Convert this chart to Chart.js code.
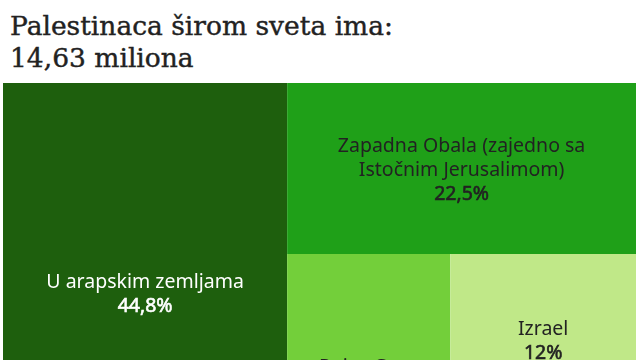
<!DOCTYPE html>
<html><head><meta charset="utf-8">
<script src="https://cdn.jsdelivr.net/npm/chart.js@4"></script>
<style>
html,body{margin:0;padding:0;background:#fff;width:640px;height:360px;overflow:hidden;}
h1{font-family:"DejaVu Serif",serif;font-weight:normal;font-size:26.5px;line-height:32px;color:#222;margin:0;position:absolute;left:10px;top:10px;white-space:nowrap;-webkit-text-stroke:0.4px #222;}
#wrap{position:absolute;left:3px;top:83px;width:633px;height:418px;}
</style></head><body>
<h1>Palestinaca širom sveta ima:<br>14,63 miliona</h1>
<div id="wrap"><canvas id="c"></canvas></div>
<script>
const categories = ["U arapskim zemljama", "Zapadna Obala (zajedno sa\nIstočnim Jerusalimom)", "Pojas Gaze", "Izrael", "U ostalim zemljama"];
const shares = [44.8, 22.5, 15.2, 12, 5.3];
const shareLabels = ["44,8%", "22,5%", "15,2%", "12%", "5,3%"];
const fillColors = ["#1e5f0d", "#1fa018", "#73cf3a", "#c0e888", "#e3f4cc"];
const textColors = ["#ffffff", "#222222", "#222222", "#222222", "#222222"];

// d3-style binary treemap layout in data units (0..1), aspect = pixel width/height
function binaryLayout(values, aspect) {
  const sums = [0];
  values.forEach((v, i) => sums.push(sums[i] + v));
  const out = new Array(values.length);
  function part(i, j, value, x0, y0, x1, y1) {
    if (i >= j - 1) { out[i] = {x0, y0, x1, y1}; return; }
    const off = sums[i], target = value / 2 + off;
    let k = i + 1, hi = j - 1;
    while (k < hi) { const mid = (k + hi) >>> 1; if (sums[mid] < target) k = mid + 1; else hi = mid; }
    if ((target - sums[k - 1]) < (sums[k] - target) && i + 1 < k) --k;
    const vl = sums[k] - off, vr = value - vl;
    if ((x1 - x0) * aspect > (y1 - y0)) {
      const xk = (x0 * vr + x1 * vl) / value;
      part(i, k, vl, x0, y0, xk, y1); part(k, j, vr, xk, y0, x1, y1);
    } else {
      const yk = (y0 * vr + y1 * vl) / value;
      part(i, k, vl, x0, y0, x1, yk); part(k, j, vr, x0, yk, x1, y1);
    }
  }
  part(0, values.length, sums[values.length], 0, 0, 1, 1);
  return out;
}

const treemapPlugin = {
  id: 'treemapRects',
  beforeDatasetsDraw(chart) {
    const xs = chart.scales.x, ys = chart.scales.y, ctx = chart.ctx;
    const a = chart.chartArea;
    const rects = binaryLayout(shares, (a.right - a.left) / (a.bottom - a.top));
    ctx.save();
    rects.forEach((r, i) => {
      const px0 = xs.getPixelForValue(r.x0), px1 = xs.getPixelForValue(r.x1);
      const py0 = ys.getPixelForValue(r.y0), py1 = ys.getPixelForValue(r.y1);
      ctx.fillStyle = fillColors[i];
      ctx.fillRect(px0, py0, px1 - px0, py1 - py0);
      const lines = categories[i].split("\n");
      const lh = 24;
      const total = (lines.length + 1) * lh;
      const cx = (px0 + px1) / 2, cy = (py0 + py1) / 2 + 2;
      let y = cy - total / 2 + lh / 2;
      ctx.fillStyle = textColors[i];
      ctx.strokeStyle = textColors[i];
      ctx.textAlign = 'center';
      ctx.textBaseline = 'middle';
      ctx.font = '19.5px "Noto Sans"';
      lines.forEach(l => { ctx.fillText(l, cx, y); y += lh; });
      ctx.lineWidth = 0.6;
      ctx.fillText(shareLabels[i], cx, y);
      ctx.strokeText(shareLabels[i], cx, y);
    });
    ctx.restore();
  }
};

new Chart(document.getElementById('c'), {
  type: 'scatter',
  data: { datasets: [{ data: shares.map((v, i) => ({x: 0, y: 0})), pointRadius: 0 }] },
  options: {
    responsive: true, maintainAspectRatio: false, animation: false,
    layout: { padding: 0 },
    plugins: { legend: { display: false }, tooltip: { enabled: false } },
    scales: {
      x: { type: 'linear', min: 0, max: 1, display: false },
      y: { type: 'linear', min: 0, max: 1, reverse: true, display: false }
    }
  },
  plugins: [treemapPlugin]
});
</script>
</body></html>
